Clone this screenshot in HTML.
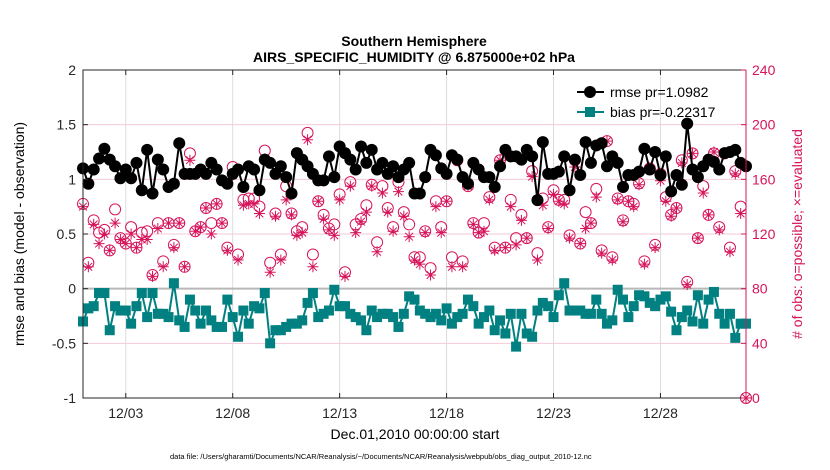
<!DOCTYPE html>
<html><head><meta charset="utf-8">
<style>
html,body{margin:0;padding:0;background:#fff;}
svg{display:block;font-family:"Liberation Sans",Arial,sans-serif;}
</style></head>
<body>
<svg id="chart" width="830" height="470" viewBox="0 0 830 470" xmlns="http://www.w3.org/2000/svg">
<rect x="0" y="0" width="830" height="470" fill="#fff"/>
<text x="414" y="46" text-anchor="middle" font-size="14" font-weight="bold">Southern Hemisphere</text>
<text x="414" y="62" text-anchor="middle" font-size="14" font-weight="bold">AIRS_SPECIFIC_HUMIDITY @ 6.875000e+02 hPa</text>
<g id="grid"></g>
<g id="marks"></g>
<g id="axes"></g>
<text transform="translate(24,234) rotate(-90)" text-anchor="middle" font-size="14">rmse and bias (model - observation)</text>
<text transform="translate(802,234) rotate(-90)" text-anchor="middle" font-size="14" fill="#d6145b"># of obs: o=possible; ×=evaluated</text>
<text x="415" y="439" text-anchor="middle" font-size="14">Dec.01,2010 00:00:00 start</text>
<text x="170" y="459" font-size="7.5">data file: /Users/gharamti/Documents/NCAR/Reanalysis/~/Documents/NCAR/Reanalysis/webpub/obs_diag_output_2010-12.nc</text>
<g>
<line x1="577" y1="92" x2="604" y2="92" stroke="#000" stroke-width="2"/>
<circle cx="590" cy="92" r="6" fill="#000"/>
<text x="610" y="97" font-size="14">rmse pr=1.0982</text>
<line x1="577" y1="112" x2="604" y2="112" stroke="#008080" stroke-width="2"/>
<rect x="585" y="107" width="10" height="10" fill="#008080"/>
<text x="610" y="117" font-size="14">bias pr=-0.22317</text>
</g>
</svg>
<script>
const rmse = [1.10,0.96,1.09,1.19,1.28,1.18,1.12,1.01,1.09,1.01,1.15,0.90,1.27,0.87,1.18,1.09,0.93,0.96,1.33,1.05,1.05,1.05,1.09,1.05,1.15,1.09,0.99,0.96,1.05,1.09,0.93,1.12,
1.09,0.90,1.18,1.15,1.05,1.12,1.02,0.87,1.24,1.18,1.12,1.05,0.99,0.99,1.21,1.02,1.30,1.24,1.18,1.09,1.30,1.15,1.27,1.09,1.15,1.05,1.12,1.02,1.09,1.15,0.87,
0.87,1.02,1.27,1.22,1.10,1.05,1.22,1.18,1.02,0.96,1.15,1.09,1.02,1.02,0.93,1.12,1.27,1.21,1.21,1.18,1.27,1.21,0.81,1.34,1.05,1.05,1.07,1.21,0.90,1.18,
1.04,1.34,1.15,1.31,1.33,1.12,1.21,1.15,0.93,1.04,1.04,1.07,1.28,1.09,1.25,1.04,1.21,0.89,1.04,0.95,1.51,1.09,1.02,1.12,1.18,1.16,1.09,1.24,1.25,1.27,1.15,1.12];
const bias = [-0.30,-0.18,-0.16,-0.04,-0.04,-0.38,-0.16,-0.20,-0.20,-0.32,-0.16,-0.04,-0.26,-0.04,-0.23,-0.23,-0.26,0.05,-0.29,-0.35,-0.10,-0.20,-0.32,-0.20,-0.29,-0.35,-0.35,-0.10,-0.26,-0.44,-0.20,-0.32,
-0.16,-0.18,-0.04,-0.50,-0.38,-0.38,-0.35,-0.32,-0.32,-0.29,-0.13,-0.04,-0.26,-0.23,-0.20,-0.01,-0.16,-0.16,-0.23,-0.26,-0.29,-0.38,-0.20,-0.26,-0.23,-0.23,-0.26,-0.35,-0.23,-0.07,-0.10,
-0.20,-0.23,-0.26,-0.23,-0.29,-0.18,-0.32,-0.26,-0.23,-0.10,-0.16,-0.32,-0.26,-0.20,-0.38,-0.29,-0.41,-0.23,-0.53,-0.23,-0.41,-0.44,-0.20,-0.13,-0.16,-0.26,-0.06,0.05,-0.20,-0.20,
-0.20,-0.23,-0.23,-0.10,-0.23,-0.32,-0.29,-0.01,-0.10,-0.26,-0.16,-0.06,-0.07,-0.13,-0.16,-0.10,-0.07,-0.21,-0.38,-0.26,-0.20,-0.30,-0.06,-0.32,-0.10,-0.03,-0.23,-0.32,-0.23,-0.45,-0.32,-0.32];
const nPossible = [142,99,130,121,123,108,138,117,113,125,110,121,122,90,128,100,128,112,128,96,179,122,125,139,128,142,128,110,169,105,145,146,
146,140,181,99,135,105,155,135,122,125,194,105,144,134,124,127,149,92,158,127,131,141,156,114,155,139,125,158,136,127,103,
103,122,95,144,125,144,103,174,100,155,128,121,128,147,110,174,110,145,117,134,117,166,106,146,125,152,145,145,119,174,
113,136,128,153,108,188,103,146,130,144,142,157,100,168,112,164,147,134,139,174,85,179,117,155,134,179,125,179,110,166,140,0];
const nEvaluated = [140,96,127,113,120,108,128,116,113,120,110,116,116,89,124,96,128,110,128,96,174,122,125,139,120,142,128,108,163,101,141,142,
142,135,175,92,133,101,145,134,119,121,189,96,144,131,123,119,145,89,155,121,129,136,155,107,150,136,122,151,133,118,101,
98,121,90,140,121,144,96,174,96,155,127,121,122,145,108,174,110,140,112,130,117,162,101,141,124,149,144,142,117,169,
113,124,128,147,106,188,101,145,129,144,140,156,98,167,110,159,144,133,139,172,83,179,117,150,134,180,123,179,107,164,135,0];
const leftTicks = [-1,-0.5,0,0.5,1,1.5,2];
const leftTickLabels = ["-1","-0.5","0","0.5","1","1.5","2"];
const rightTicks = [0,40,80,120,160,200,240];
const dateTicks = [2,7,12,17,22,27];
const dateLabels = ["12/03","12/08","12/13","12/18","12/23","12/28"];
const timeStep = 0.25;

const X0=83, X1=746, Y0=70, Y1=398;
const xS = d => X0 + (d/31)*(X1-X0);
const yL = v => Y1 - (v+1)/3*(Y1-Y0);
const yR = c => Y1 - c/240*(Y1-Y0);
const NS="http://www.w3.org/2000/svg";
function mk(tag, attrs, parent){const e=document.createElementNS(NS,tag);for(const k in attrs)e.setAttribute(k,attrs[k]);parent.appendChild(e);return e;}
const grid=document.getElementById('grid'), marks=document.getElementById('marks'), axes=document.getElementById('axes');
const RED="#d6145b";

leftTicks.forEach(v=>{ if(v===-1||v===2||v===0) return;
  const g=mk('line',{x1:X0,x2:X1,y1:yL(v),y2:yL(v),stroke:"#f4c9d8","stroke-width":1},grid);
  
  
});
dateTicks.forEach(d=>{
  const g=mk('line',{x1:xS(d),x2:xS(d),y1:Y0,y2:Y1,stroke:"#dcdcdc","stroke-width":1},grid);
  
  
});
const zl=mk('line',{x1:X0,x2:X1,y1:yL(0),y2:yL(0),stroke:"#b8b8b8","stroke-width":2},grid);



nPossible.forEach((c,i)=>{
  const cx=xS(i*timeStep), cy=yR(c);
  const e=mk('circle',{cx:cx,cy:cy,r:5.5,fill:"none",stroke:RED,"stroke-width":1},marks);
  
  
});
nEvaluated.forEach((c,i)=>{
  const cx=xS(i*timeStep), cy=yR(c), s=5.5;
  const d=`M${cx-s},${cy}H${cx+s}M${cx},${cy-s}V${cy+s}M${cx-s*0.7},${cy-s*0.7}L${cx+s*0.7},${cy+s*0.7}M${cx-s*0.7},${cy+s*0.7}L${cx+s*0.7},${cy-s*0.7}`;
  const e=mk('path',{d:d,stroke:RED,"stroke-width":1,fill:"none"},marks);
  
  
});
const bl=mk('polyline',{points:bias.map((v,i)=>xS(i*timeStep)+","+yL(v)).join(" "),fill:"none",stroke:"#008080","stroke-width":2},marks);


bias.forEach((v,i)=>{
  const e=mk('rect',{x:xS(i*timeStep)-5,y:yL(v)-5,width:10,height:10,fill:"#008080"},marks);
  
  
});
const rl=mk('polyline',{points:rmse.map((v,i)=>xS(i*timeStep)+","+yL(v)).join(" "),fill:"none",stroke:"#000","stroke-width":2},marks);


rmse.forEach((v,i)=>{
  const e=mk('circle',{cx:xS(i*timeStep),cy:yL(v),r:6,fill:"#000"},marks);
  
  
});

const ab=mk('path',{d:`M${X1},${Y0}H${X0}V${Y1}H${X1}`,fill:"none",stroke:"#262626","stroke-width":1},axes);


const ra=mk('line',{x1:X1,x2:X1,y1:Y0,y2:Y1,stroke:RED,"stroke-width":1},axes);


leftTicks.forEach((v,i)=>{
  mk('line',{x1:X0,x2:X0+5,y1:yL(v),y2:yL(v),stroke:"#262626"},axes);
  const t=mk('text',{x:X0-7,y:yL(v)+5,"text-anchor":"end","font-size":14,fill:"#262626"},axes);
  t.textContent=leftTickLabels[i];
  
  
});
rightTicks.forEach(c=>{
  mk('line',{x1:X1-5,x2:X1,y1:yR(c),y2:yR(c),stroke:RED},axes);
  const t=mk('text',{x:X1+6,y:yR(c)+5,"font-size":14,fill:RED},axes);
  t.textContent=String(c);
  
  
});
dateTicks.forEach((d,i)=>{
  mk('line',{x1:xS(d),x2:xS(d),y1:Y1,y2:Y1-5,stroke:"#262626"},axes);
  mk('line',{x1:xS(d),x2:xS(d),y1:Y0,y2:Y0+5,stroke:"#262626"},axes);
  const t=mk('text',{x:xS(d),y:418,"text-anchor":"middle","font-size":14,fill:"#262626"},axes);
  t.textContent=dateLabels[i];
  
  
});
</script>
</body></html>
